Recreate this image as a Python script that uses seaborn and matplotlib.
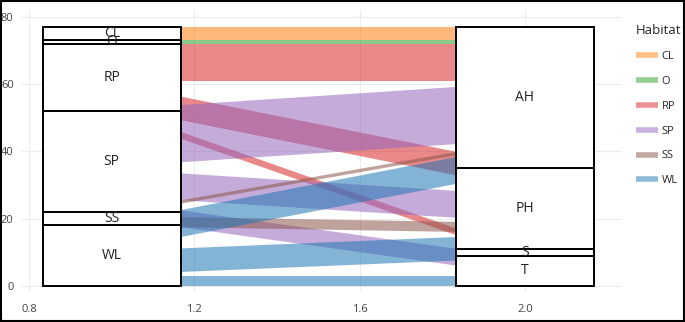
import numpy as np
import matplotlib
matplotlib.use("Agg")
import matplotlib.pyplot as plt
import seaborn as sns
from matplotlib.lines import Line2D
from matplotlib.patches import Rectangle

# strata on each axis (bottom to top)
left_strata = ["WL", "SS", "SP", "RP", "O", "CL"]
left_counts = [18, 4, 30, 20, 1, 4]
right_strata = ["T", "S", "PH", "AH"]
right_counts = [9, 2, 24, 42]

# flows between the two axes
flow_habitat = ["CL", "O", "RP", "RP", "RP", "SP", "SP", "SP", "SS", "SS", "WL", "WL", "WL"]
flow_size = [4, 1, 11, 7, 2, 17, 8, 5, 1, 3, 3, 7, 8]
flow_left_base = [73, 72, 61, 49.4, 43.9, 36.9, 25.6, 17.6, 24.6, 17.6, 0, 4.3, 14.7]
flow_right_base = [73, 72, 61, 33.0, 15.2, 42.3, 20.4, 6.2, 39.0, 16.2, 0, 7.7, 30.5]

habitats = ["CL", "O", "RP", "SP", "SS", "WL"]

sns.set_theme(style="whitegrid")
plt.rcParams['font.family'] = ['Open Sans', 'DejaVu Sans']

tab = sns.color_palette("tab10")
pal = dict(zip(habitats, [tab[1], tab[2], tab[3], tab[4], tab[5], tab[0]]))

fig = plt.figure(figsize=(6.85, 3.22), dpi=100)
ax = fig.add_axes([22 / 685, 1 - 291 / 322, 600 / 685, 281 / 322])

w = 1 / 3
x0, x1 = 1 + w / 2, 2 - w / 2

# flows
for h, s, lb, rb in zip(flow_habitat, flow_size, flow_left_base, flow_right_base):
    ax.fill_between([x0, x1], [lb, rb], [lb + s, rb + s],
                    color=pal[h], alpha=0.55, lw=0, zorder=1)

# strata boxes
for xpos, names, counts in [(1, left_strata, left_counts), (2, right_strata, right_counts)]:
    bottoms = np.concatenate([[0], np.cumsum(counts)[:-1]])
    ax.bar(xpos, counts, bottom=bottoms, width=w, color="white",
           edgecolor="black", linewidth=1.4, zorder=2)
    for n, c, b in zip(names, counts, bottoms):
        ax.text(xpos, b + c / 2, n, ha="center", va="center",
                fontsize=10, color="#222222", zorder=3)

ax.set_xlim(0.783, 2.235)
ax.set_ylim(-1.5, 82)
ax.set_xticks([0.8, 1.2, 1.6, 2.0])
ax.set_xticklabels(["0.8", "1.2", "1.6", "2.0"])
ax.set_yticks([0, 20, 40, 60, 80])
ax.tick_params(axis="both", length=0, labelsize=8, labelcolor="#444444")
ax.tick_params(axis="x", pad=9)
ax.tick_params(axis="y", pad=6)
ax.grid(True, color="#ececec", linewidth=0.8)
for sp in ax.spines.values():
    sp.set_visible(False)
ax.set_facecolor("white")

handles = [Line2D([0], [0], color=pal[h], alpha=0.5, lw=4, solid_capstyle="butt")
           for h in habitats]
leg = fig.legend(handles, habitats, title="Habitat", loc="upper left",
                 bbox_to_anchor=(626 / 685, 1 - 14 / 322), frameon=False,
                 fontsize=8, title_fontsize=9.5, handlelength=2.0,
                 labelspacing=1.25, handletextpad=0.3, alignment="left")

fig.patches.append(Rectangle((0.002, 0.004), 0.996, 0.992, transform=fig.transFigure,
                             fill=False, edgecolor="black", linewidth=1.5))

fig.savefig("out.png", dpi=100)
